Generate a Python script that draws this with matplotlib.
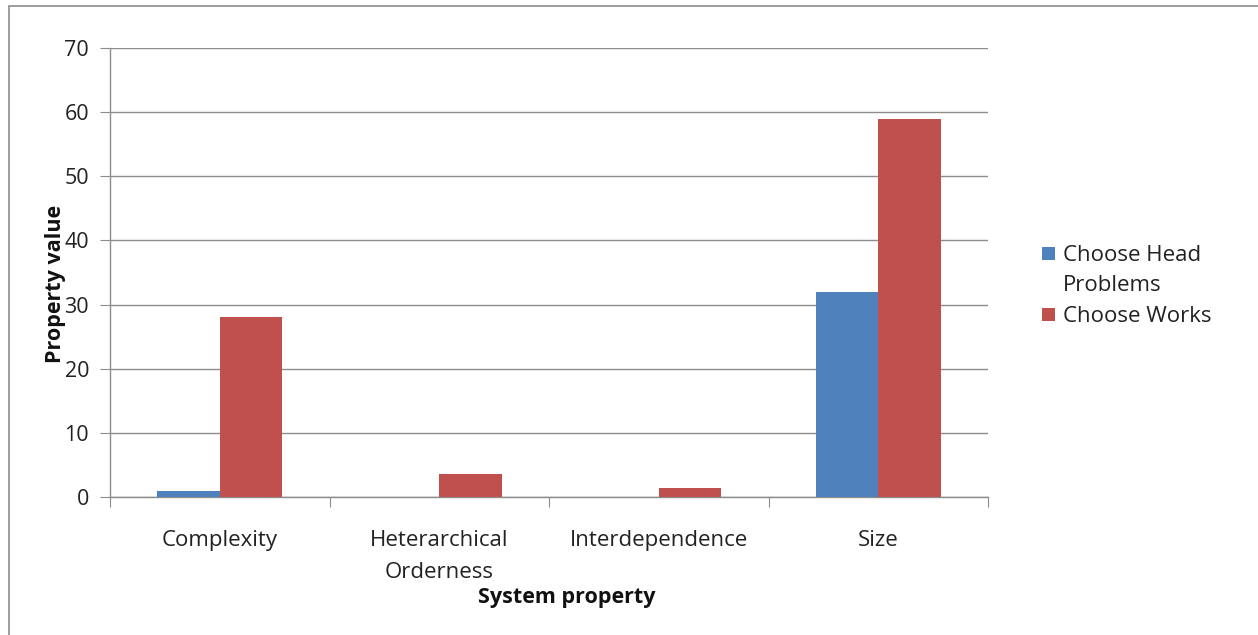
import matplotlib
matplotlib.use("Agg")
import matplotlib.pyplot as plt
from matplotlib.patches import Rectangle
import numpy as np

categories = ["Complexity", "Heterarchical\nOrderness", "Interdependence", "Size"]
series_names = ["Choose Head\nProblems", "Choose Works"]
series_colors = ['#4F81BD', '#C0504D']
head_problems = [1.0, 0.0, 0.0, 32.0]
works = [28.0, 3.6, 1.4, 59.0]
yticks = [0, 10, 20, 30, 40, 50, 60, 70]

plt.rcParams['font.family'] = ['Open Sans', 'DejaVu Sans']

fig = plt.figure(figsize=(12.58, 6.35), dpi=100)
fig.patch.set_facecolor('white')
fig.add_artist(Rectangle((9/1258, -0.1), 1.2, 1 - 6/635 + 0.1, transform=fig.transFigure,
                         fill=False, edgecolor='#8c8c8c', linewidth=1.2))

ax = fig.add_axes([110/1258, 1 - 497/635, 878/1258, 449/635])
x = np.arange(len(categories))
w = 0.285
ax.bar(x - w/2, head_problems, w, color=series_colors[0], label=series_names[0], zorder=3)
ax.bar(x + w/2, works, w, color=series_colors[1], label=series_names[1], zorder=3)

ax.set_xlim(-0.5, len(categories) - 0.5)
ax.set_ylim(0, 70)
ax.set_yticks(yticks)
ax.set_yticklabels([str(t) for t in yticks], fontsize=15.5, color='#222222')
ax.yaxis.grid(True, color='#8c8c8c', linewidth=1.0, zorder=0)
ax.set_axisbelow(True)

ax.set_xticks(np.arange(-0.5, len(categories)), minor=False)
ax.set_xticklabels([])
ax.set_xticks(x, minor=True)
ax.set_xticklabels(categories, minor=True, fontsize=16, color='#222222', linespacing=1.65)
ax.tick_params(axis='x', which='major', length=7, color='#8c8c8c', direction='out')
ax.tick_params(axis='x', which='minor', length=0, pad=24)
ax.tick_params(axis='y', length=7, color='#8c8c8c', pad=8)

for s in ['top', 'right']:
    ax.spines[s].set_visible(False)
for s in ['left', 'bottom']:
    ax.spines[s].set_color('#8c8c8c')
    ax.spines[s].set_linewidth(1.0)

fig.text(55/1258, 1 - 284/635, "Property value", rotation=90, ha='center', va='center',
         fontsize=15.5, fontweight='bold', color='#111111')
fig.text(567/1258, 1 - 598/635, "System property", ha='center', va='center',
         fontsize=15.5, fontweight='bold', color='#111111')

# legend drawn manually (square aligned to first line of each entry)
leg_first_line_y = [253, 314]
for name, col, yc in zip(series_names, series_colors, leg_first_line_y):
    fig.add_artist(Rectangle((1042/1258, 1 - (yc + 6.5)/635), 13/1258, 13/635,
                             transform=fig.transFigure, facecolor=col, edgecolor='none'))
    fig.text(1063/1258, 1 - (yc - 8)/635, name, ha='left', va='top', fontsize=16,
             color='#222222', linespacing=1.55)

fig.savefig("out.png", dpi=100, facecolor='white')
